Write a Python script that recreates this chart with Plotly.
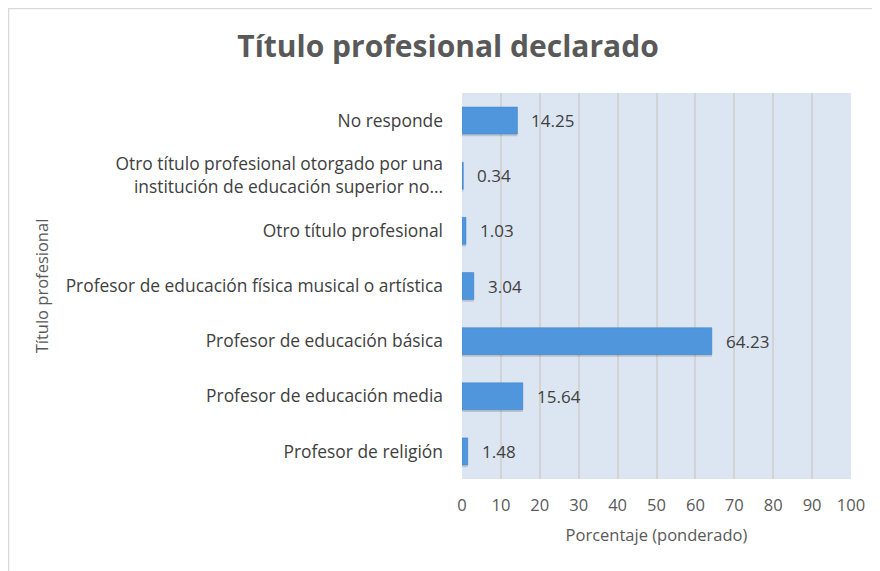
import plotly.graph_objects as go

categories = [
    "No responde",
    "Otro título profesional otorgado por una<br>institución de educación superior no…",
    "Otro título profesional",
    "Profesor de educación física musical o artística",
    "Profesor de educación básica",
    "Profesor de educación media",
    "Profesor de religión",
]
values = [14.25, 0.34, 1.03, 3.04, 64.23, 15.64, 1.48]
labels = ["14.25", "0.34", "1.03", "3.04", "64.23", "15.64", "1.48"]
x_ticks = [0, 10, 20, 30, 40, 50, 60, 70, 80, 90, 100]

FONT = "Open Sans"
BAR_W = 0.49

fig = go.Figure()
# soft shadow under bars
fig.add_trace(go.Bar(
    y=categories, x=values, orientation="h",
    width=BAR_W, offset=-BAR_W / 2 + 0.04,
    marker=dict(color="rgba(60,60,60,0.20)", line=dict(width=0)),
    hoverinfo="skip", showlegend=False,
))
fig.add_trace(go.Bar(
    y=categories, x=values, orientation="h",
    width=BAR_W, offset=-BAR_W / 2,
    marker=dict(color="#5096DC", line=dict(color="#3F80C8", width=0.5)),
    showlegend=False,
))

annotations = [
    dict(x=v, y=c, xref="x", yref="y", text=t, showarrow=False,
         xanchor="left", yanchor="middle", xshift=12,
         font=dict(family=FONT, size=17, color="#404040"))
    for c, v, t in zip(categories, values, labels)
]

fig.update_layout(
    width=880, height=571,
    barmode="overlay",
    paper_bgcolor="white",
    plot_bgcolor="#DCE6F2",
    margin=dict(l=454, r=37, t=85, b=100),
    title=dict(
        text="<b>Título profesional declarado</b>",
        x=0.5, xanchor="center", y=0.932, yanchor="middle",
        font=dict(family=FONT, size=30, color="#595959"),
    ),
    font=dict(family=FONT, color="#595959"),
    annotations=annotations,
    shapes=[dict(
        type="rect", xref="paper", yref="paper",
        x0=-1.1658, x1=1.3, y0=-0.4, y1=1.219,
        line=dict(color="#D9D9D9", width=1.5), fillcolor="rgba(0,0,0,0)",
        layer="below",
    )],
)
fig.update_xaxes(
    range=[0, 100], tickvals=x_ticks, ticktext=[str(t) for t in x_ticks],
    showgrid=True, gridcolor="#D3D3D3", gridwidth=1.5,
    zeroline=False, showline=False, ticks="", ticklabelstandoff=14,
    tickfont=dict(family=FONT, size=16.5, color="#595959"),
    title=dict(text="Porcentaje (ponderado)", standoff=14,
               font=dict(family=FONT, size=16.5, color="#595959")),
)
fig.update_yaxes(
    autorange="reversed", showgrid=False, zeroline=False, showline=False,
    ticks="", ticklabelstandoff=18,
    tickfont=dict(family=FONT, size=17.4, color="#404040"),
    title=dict(text="Título profesional", standoff=12,
               font=dict(family=FONT, size=16.5, color="#595959")),
)

fig.write_html("out.html")
